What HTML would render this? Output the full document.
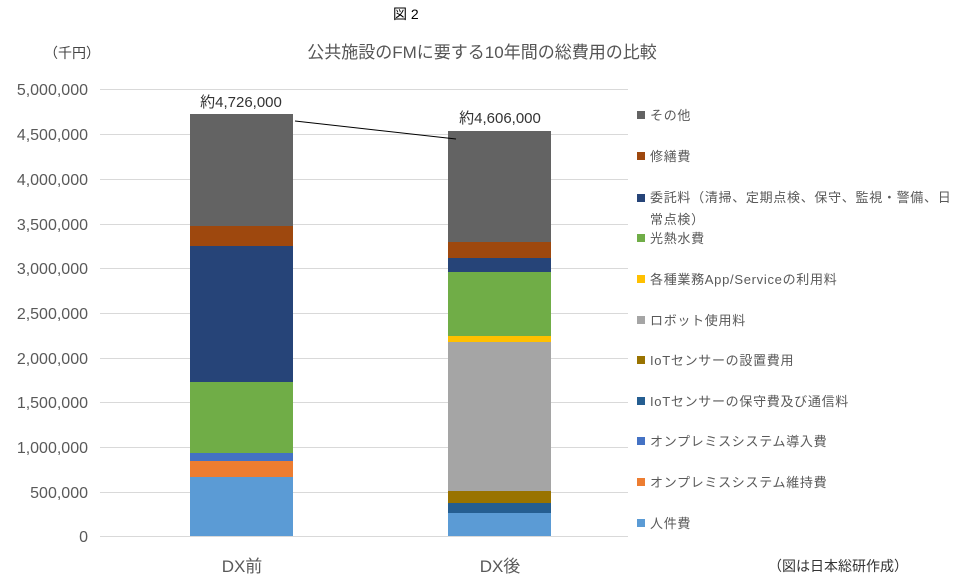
<!DOCTYPE html><html><head><meta charset="utf-8"><style>
body{margin:0;width:961px;height:582px;background:#fff;overflow:hidden}
text{font-family:"Liberation Sans","Noto Sans CJK JP",sans-serif}
</style></head><body>
<svg width="961" height="582" xmlns="http://www.w3.org/2000/svg">
<text x="393" y="19" font-size="14" fill="#000">図 2</text>
<text x="44" y="58" font-size="14" fill="#444">（千円）</text>
<text x="482" y="58" font-size="17" fill="#555" text-anchor="middle">公共施設のFMに要する10年間の総費用の比較</text>
<g stroke="#d9d9d9" stroke-width="1">
<line x1="100" x2="628" y1="89.5" y2="89.5"/><line x1="100" x2="628" y1="134.5" y2="134.5"/><line x1="100" x2="628" y1="179.5" y2="179.5"/><line x1="100" x2="628" y1="224.5" y2="224.5"/><line x1="100" x2="628" y1="268.5" y2="268.5"/><line x1="100" x2="628" y1="313.5" y2="313.5"/><line x1="100" x2="628" y1="358.5" y2="358.5"/><line x1="100" x2="628" y1="402.5" y2="402.5"/><line x1="100" x2="628" y1="447.5" y2="447.5"/><line x1="100" x2="628" y1="492.5" y2="492.5"/><line x1="100" x2="628" y1="536.5" y2="536.5"/>
</g>
<g font-size="16" fill="#595959" text-anchor="end">
<text x="88" y="95">5,000,000</text><text x="88" y="140">4,500,000</text><text x="88" y="185">4,000,000</text><text x="88" y="230">3,500,000</text><text x="88" y="274">3,000,000</text><text x="88" y="319">2,500,000</text><text x="88" y="364">2,000,000</text><text x="88" y="408">1,500,000</text><text x="88" y="453">1,000,000</text><text x="88" y="498">500,000</text><text x="88" y="542">0</text>
</g>
<g>
<rect x="190" y="114" width="103" height="112" fill="#636363"/>
<rect x="190" y="226" width="103" height="20" fill="#9e480e"/>
<rect x="190" y="246" width="103" height="136" fill="#264478"/>
<rect x="190" y="382" width="103" height="71" fill="#70ad47"/>
<rect x="190" y="453" width="103" height="8" fill="#4472c4"/>
<rect x="190" y="461" width="103" height="16" fill="#ed7d31"/>
<rect x="190" y="477" width="103" height="59" fill="#5b9bd5"/>
<rect x="448" y="131" width="103" height="111" fill="#636363"/>
<rect x="448" y="242" width="103" height="16" fill="#9e480e"/>
<rect x="448" y="258" width="103" height="14" fill="#264478"/>
<rect x="448" y="272" width="103" height="64" fill="#70ad47"/>
<rect x="448" y="336" width="103" height="6" fill="#ffc000"/>
<rect x="448" y="342" width="103" height="149" fill="#a5a5a5"/>
<rect x="448" y="491" width="103" height="12" fill="#997300"/>
<rect x="448" y="503" width="103" height="10" fill="#255e91"/>
<rect x="448" y="513" width="103" height="23" fill="#5b9bd5"/>
</g>
<line x1="295" y1="121" x2="456" y2="139" stroke="#000" stroke-width="1"/>
<text x="241" y="107" font-size="15" fill="#333" text-anchor="middle">約4,726,000</text>
<text x="500" y="123" font-size="15" fill="#333" text-anchor="middle">約4,606,000</text>
<text x="242" y="572" font-size="17" fill="#595959" text-anchor="middle">DX前</text>
<text x="500" y="572" font-size="17" fill="#595959" text-anchor="middle">DX後</text>
<g font-size="13" fill="#595959" letter-spacing="0.7">
<rect x="637" y="111" width="8" height="8" fill="#636363"/><text x="650" y="120">その他</text>
<rect x="637" y="152" width="8" height="8" fill="#9e480e"/><text x="650" y="161">修繕費</text>
<rect x="637" y="194" width="8" height="8" fill="#264478"/><text x="650" y="202">委託料（清掃、定期点検、保守、監視・警備、日</text><text x="650" y="224">常点検）</text>
<rect x="637" y="234" width="8" height="8" fill="#70ad47"/><text x="650" y="243">光熱水費</text>
<rect x="637" y="275" width="8" height="8" fill="#ffc000"/><text x="650" y="284">各種業務App/Serviceの利用料</text>
<rect x="637" y="316" width="8" height="8" fill="#a5a5a5"/><text x="650" y="325">ロボット使用料</text>
<rect x="637" y="356" width="8" height="8" fill="#997300"/><text x="650" y="365">IoTセンサーの設置費用</text>
<rect x="637" y="397" width="8" height="8" fill="#255e91"/><text x="650" y="406">IoTセンサーの保守費及び通信料</text>
<rect x="637" y="437" width="8" height="8" fill="#4472c4"/><text x="650" y="446">オンプレミスシステム導入費</text>
<rect x="637" y="478" width="8" height="8" fill="#ed7d31"/><text x="650" y="487">オンプレミスシステム維持費</text>
<rect x="637" y="519" width="8" height="8" fill="#5b9bd5"/><text x="650" y="528">人件費</text>
</g>
<text x="768" y="571" font-size="14" fill="#333">（図は日本総研作成）</text>
</svg>
</body></html>
